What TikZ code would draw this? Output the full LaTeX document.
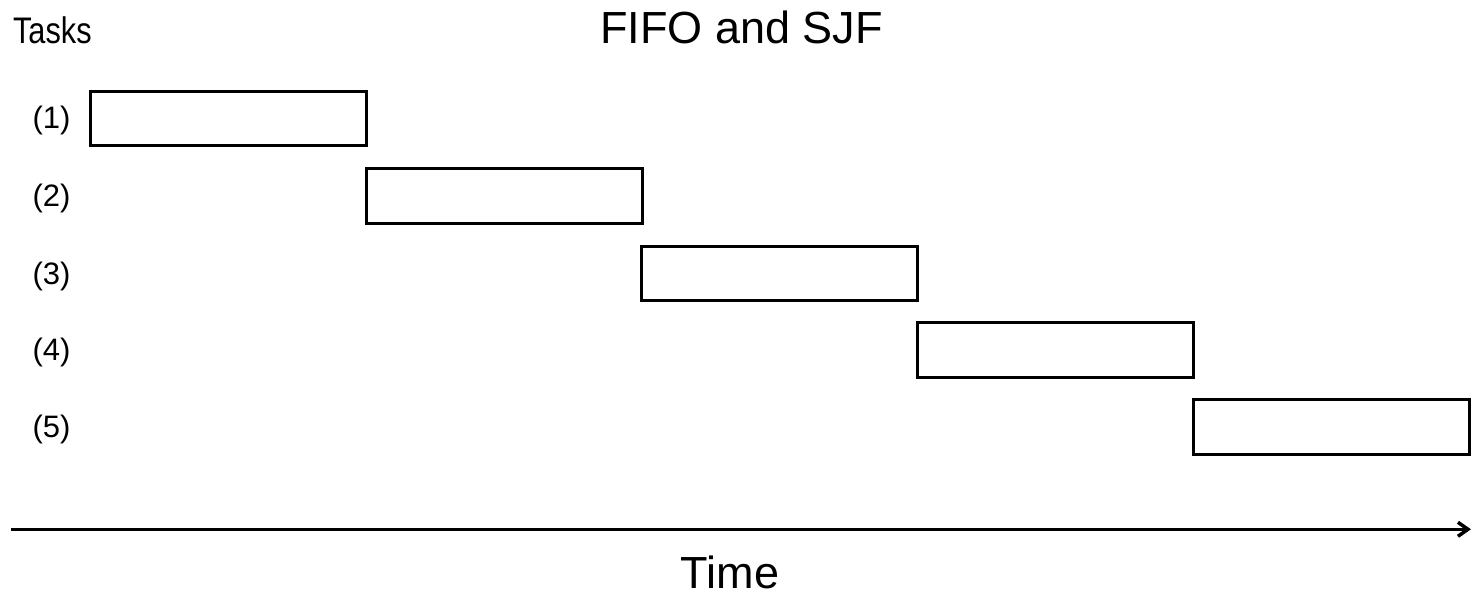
\documentclass[tikz,border=0pt]{standalone}
\usepackage{fontspec}
\setmainfont{Liberation Sans}
\newfontfamily\narrowfont{Liberation Sans}[FakeStretch=0.83]
\usetikzlibrary{arrows.meta,positioning}

\begin{document}
\begin{tikzpicture}[x=0.5pt,y=-0.5pt]
	\tikzstyle{task}=[draw=black, line width=1.5pt, inner sep=0pt, minimum width=138pt, minimum height=27.25pt]
	\tikzstyle{tasklabel}=[inner sep=0pt, anchor=base, font=\fontsize{15.5}{18}\selectfont]
	\tikzstyle{big}=[inner sep=0pt, anchor=base, font=\fontsize{22.5}{26}\selectfont]
	\useasboundingbox (0,0) rectangle (1474,594);
	% title and axis label
	\node [big] (title) at (741.5,43) {FIFO and SJF};
	\node [inner sep=0pt, anchor=base west, font=\narrowfont\fontsize{18.5}{21}\selectfont] (tasks) at (12.7,43.3) {Tasks};
	% one box per task, back to back in time
	\node [task] (t1) at (228.5,118.25) {};
	\node [task] (t2) at (504.2,196) {};
	\node [task] (t3) at (779.9,273.5) {};
	\node [task] (t4) at (1055.6,350) {};
	\node [task] (t5) at (1331.3,427) {};
	\node [tasklabel] (l1) at (51.5,128.75) {(1)};
	\node [tasklabel] (l2) at (51.5,206.5) {(2)};
	\node [tasklabel] (l3) at (51.5,284) {(3)};
	\node [tasklabel] (l4) at (51.5,360.5) {(4)};
	\node [tasklabel] (l5) at (51.5,437.5) {(5)};
	% time axis
	\coordinate (ts) at (11,529.3);
	\coordinate (te) at (1471,529.3);
	\draw [line width=1.75pt, -{Straight Barb[length=5pt,width=7pt]}] (ts) -- (te);
	\node [big] (time) at (730,588.5) {Time};
\end{tikzpicture}
\end{document}
